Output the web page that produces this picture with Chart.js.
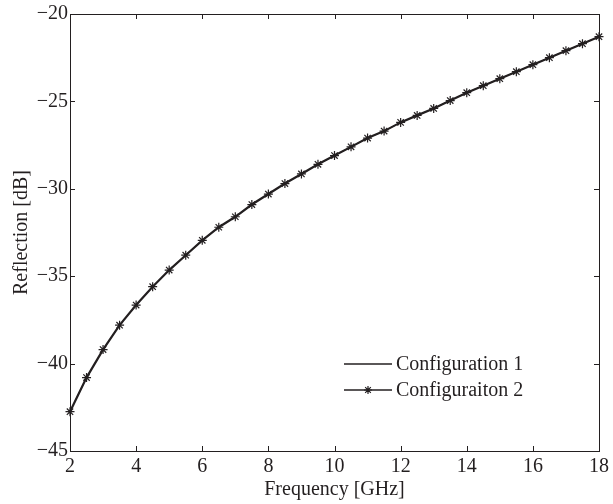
<!DOCTYPE html>
<html>
<head>
  <title>Reflection vs Frequency</title>
  <script src="https://cdn.jsdelivr.net/npm/chart.js"></script>
  <style>
    html, body { margin: 0; padding: 0; background: #fff; }
    #wrap { width: 613px; height: 504px; }
  </style>
</head>
<body>
  <div id="wrap"><canvas id="chart"></canvas></div>

  <script>
    const freqGHz = [2, 2.5, 3, 3.5, 4, 4.5, 5, 5.5, 6, 6.5, 7, 7.5, 8, 8.5, 9, 9.5, 10,
      10.5, 11, 11.5, 12, 12.5, 13, 13.5, 14, 14.5, 15, 15.5, 16, 16.5, 17, 17.5, 18];
    const config1 = [-42.75, -40.8, -39.2, -37.8, -36.65, -35.6, -34.65, -33.8, -32.95, -32.2,
      -31.6, -30.9, -30.3, -29.7, -29.15, -28.6, -28.1, -27.6, -27.1, -26.7, -26.2, -25.8,
      -25.4, -24.95, -24.5, -24.1, -23.7, -23.3, -22.9, -22.5, -22.1, -21.7, -21.3];
    const config2 = [-42.75, -40.8, -39.2, -37.8, -36.65, -35.6, -34.65, -33.8, -32.95, -32.2,
      -31.6, -30.9, -30.3, -29.7, -29.15, -28.6, -28.1, -27.6, -27.1, -26.7, -26.2, -25.8,
      -25.4, -24.95, -24.5, -24.1, -23.7, -23.3, -22.9, -22.5, -22.1, -21.7, -21.3];
    const seriesNames = ['Configuration 1', 'Configuraiton 2'];
    const xTicks = [2, 4, 6, 8, 10, 12, 14, 16, 18];
    const yTicks = [-45, -40, -35, -30, -25, -20];

    const ink = '#231f20';
    const serif = '"Liberation Serif", "DejaVu Serif", serif';
    const minus = v => String(v).replace('-', '\u2212');

    // box + inward ticks on all four sides
    const frame = {
      id: 'frame',
      afterDraw(chart) {
        const { ctx, chartArea: a, scales } = chart;
        ctx.save();
        ctx.strokeStyle = ink;
        ctx.lineWidth = 1;
        ctx.strokeRect(a.left + 0.5, a.top + 0.5, a.right - a.left, a.bottom - a.top);
        ctx.beginPath();
        xTicks.forEach(t => {
          const x = Math.round(scales.x.getPixelForValue(t)) + 0.5;
          ctx.moveTo(x, a.bottom); ctx.lineTo(x, a.bottom - 5);
          ctx.moveTo(x, a.top); ctx.lineTo(x, a.top + 5);
        });
        yTicks.forEach(t => {
          const y = Math.round(scales.y.getPixelForValue(t)) + 0.5;
          ctx.moveTo(a.left, y); ctx.lineTo(a.left + 5, y);
          ctx.moveTo(a.right, y); ctx.lineTo(a.right - 5, y);
        });
        ctx.stroke();
        ctx.restore();
      }
    };

    // legend drawn inside the plot, lower right
    const insideLegend = {
      id: 'insideLegend',
      afterDraw(chart) {
        const { ctx, chartArea: a } = chart;
        const x0 = a.right - 255, x1 = a.right - 207;
        ctx.save();
        ctx.font = '20px ' + serif;
        ctx.fillStyle = ink;
        ctx.strokeStyle = ink;
        ctx.textBaseline = 'middle';
        chart.data.datasets.forEach((ds, i) => {
          const y = a.bottom - 87 + i * 26;
          ctx.lineWidth = 1.5;
          ctx.beginPath();
          ctx.moveTo(x0, y); ctx.lineTo(x1, y);
          ctx.stroke();
          if (ds.pointStyle === 'star') {
            ctx.lineWidth = 1.2;
            Chart.helpers.drawPoint(ctx, { pointStyle: 'star', radius: 4, borderWidth: 1.2 }, (x0 + x1) / 2, y);
          }
          ctx.fillText(ds.label, x1 + 4, y + 1);
        });
        ctx.restore();
      }
    };

    new Chart(document.getElementById('chart').getContext('2d'), {
      type: 'line',
      data: {
        labels: freqGHz,
        datasets: [
          {
            label: seriesNames[0],
            data: freqGHz.map((f, i) => ({ x: f, y: config1[i] })),
            borderColor: ink,
            borderWidth: 2.2,
            pointRadius: 0,
            tension: 0,
            clip: false
          },
          {
            label: seriesNames[1],
            data: freqGHz.map((f, i) => ({ x: f, y: config2[i] })),
            borderColor: ink,
            backgroundColor: ink,
            borderWidth: 1,
            pointStyle: 'star',
            pointRadius: 4.5,
            pointBorderWidth: 1.2,
            tension: 0,
            clip: false
          }
        ]
      },
      options: {
        responsive: true,
        maintainAspectRatio: false,
        animation: false,
        layout: { padding: { top: 10, right: 10, bottom: 2, left: 10 } },
        plugins: {
          legend: { display: false },
          tooltip: { enabled: false }
        },
        scales: {
          x: {
            type: 'linear',
            min: 2, max: 18,
            afterBuildTicks: s => { s.ticks = xTicks.map(v => ({ value: v })); },
            afterFit: s => { s.height = 51; },
            grid: { display: false, drawTicks: false },
            border: { display: false },
            ticks: { color: ink, font: { family: serif, size: 20 }, padding: 4, maxRotation: 0,
              callback: v => minus(v) },
            title: { display: true, text: 'Frequency [GHz]', color: ink,
              font: { family: serif, size: 20 }, padding: { top: 0, bottom: 0 } }
          },
          y: {
            min: -45, max: -20,
            afterBuildTicks: s => { s.ticks = yTicks.map(v => ({ value: v })); },
            afterFit: s => { s.width = 60; },
            grid: { display: false, drawTicks: false },
            border: { display: false },
            ticks: { color: ink, font: { family: serif, size: 20 }, padding: 2,
              callback: v => minus(v) },
            title: { display: true, text: 'Reflection [dB]', color: ink,
              font: { family: serif, size: 20 }, padding: { top: 0, bottom: 0 } }
          }
        }
      },
      plugins: [frame, insideLegend]
    });
  </script>
</body>
</html>
